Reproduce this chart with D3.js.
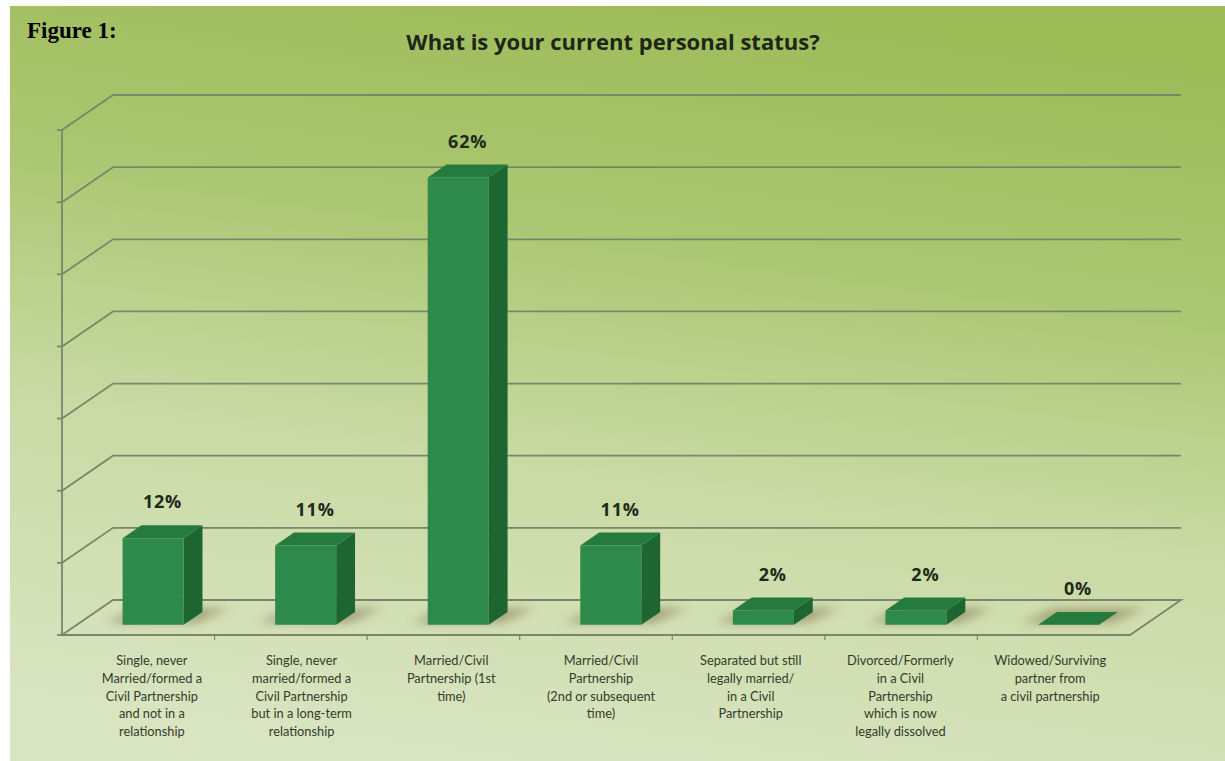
<!DOCTYPE html>
<html>
<head>
<meta charset="utf-8">
<title>What is your current personal status?</title>
<script src="https://d3js.org/d3.v7.min.js"></script>
<style>
  html, body { margin: 0; padding: 0; background: #fff; }
  svg { display: block; }
</style>
</head>
<body>
<script>
// chart data
const categories = [
  "Single, never Married/formed a Civil Partnership and not in a relationship",
  "Single, never married/formed a Civil Partnership but in a long-term relationship",
  "Married/Civil Partnership (1st time)",
  "Married/Civil Partnership (2nd or subsequent time)",
  "Separated but still legally married/ in a Civil Partnership",
  "Divorced/Formerly in a Civil Partnership which is now legally dissolved",
  "Widowed/Surviving partner from a civil partnership"
];
// line breaks as in the original axis labels
const labelLines = [
  ["Single, never", "Married/formed a", "Civil Partnership", "and not in a", "relationship"],
  ["Single, never", "married/formed a", "Civil Partnership", "but in a long-term", "relationship"],
  ["Married/Civil", "Partnership (1st", "time)"],
  ["Married/Civil", "Partnership", "(2nd or subsequent", "time)"],
  ["Separated but still", "legally married/", "in a Civil", "Partnership"],
  ["Divorced/Formerly", "in a Civil", "Partnership", "which is now", "legally dissolved"],
  ["Widowed/Surviving", "partner from", "a civil partnership"]
];
const values = [12, 11, 62, 11, 2, 2, 0];
const yTicks = [0, 10, 20, 30, 40, 50, 60, 70];
const title = "What is your current personal status?";
const figureLabel = "Figure 1:";

const width = 1225, height = 761;

const svg = d3.select("body").append("svg")
  .attr("width", width)
  .attr("height", height);

const defs = svg.append("defs");
const bg = defs.append("linearGradient")
  .attr("id", "bg")
  .attr("x1", 0.62).attr("y1", 0)
  .attr("x2", 0.4).attr("y2", 1);
bg.append("stop").attr("offset", 0).attr("stop-color", "#9dbc58");
bg.append("stop").attr("offset", 0.3).attr("stop-color", "#aac670");
bg.append("stop").attr("offset", 0.62).attr("stop-color", "#c9daa4");
bg.append("stop").attr("offset", 1).attr("stop-color", "#d9e4c1");

defs.append("filter").attr("id", "blur")
  .attr("x", -0.5).attr("y", -1).attr("width", 2).attr("height", 3)
  .append("feGaussianBlur").attr("stdDeviation", 5);

// white margin top/left like the scanned figure
svg.append("rect")
  .attr("x", 10).attr("y", 6)
  .attr("width", width - 10).attr("height", height - 6)
  .attr("fill", "url(#bg)");

// 3d frame: front plane scales + oblique depth offset
const depthX = 51, depthY = 35;
const x = d3.scaleBand()
  .domain(categories)
  .range([62, 1130])
  .paddingInner(0.6)
  .paddingOuter(0.3);
const y = d3.scaleLinear().domain([0, 70]).range([635, 130]);
const z0 = 0.29, z1 = 0.66; // bar front / back depth

const P = (px, py, z) => [px + z * depthX, py - z * depthY];
const poly = pts => "M" + pts.map(p => p.join(",")).join("L") + "Z";

const gridColor = "#77876a";
const grid = svg.append("g").attr("fill", "none").attr("stroke", gridColor).attr("stroke-width", 1.8);

// floor
const xa = x.range()[0], xb = x.range()[1];
grid.append("path")
  .attr("d", poly([P(xa, y(0), 0), P(xa, y(0), 1), P(xb, y(0), 1), P(xb, y(0), 0)]))
  .attr("fill", "#d6e2bb").attr("fill-opacity", 0.3);

// back wall gridlines + left wall diagonals
yTicks.filter(t => t > 0).forEach(t => {
  grid.append("path")
    .attr("d", d3.line()([P(xa, y(t), 0), P(xa, y(t), 1), P(xb, y(t), 1)]));
});

// front vertical axis with small ticks
grid.append("line")
  .attr("x1", xa).attr("x2", xa)
  .attr("y1", y(0)).attr("y2", y(70));
yTicks.forEach(t => {
  grid.append("line")
    .attr("x1", xa - 5).attr("x2", xa)
    .attr("y1", y(t)).attr("y2", y(t));
});

// category ticks below floor
const step = x.step();
d3.range(1, categories.length).forEach(i => {
  grid.append("line")
    .attr("x1", xa + i * step).attr("x2", xa + i * step)
    .attr("y1", y(0)).attr("y2", y(0) + 5)
    .attr("stroke-width", 1.2);
});

// shadows on the floor
const shadows = svg.append("g").attr("filter", "url(#blur)");
categories.forEach((c, i) => {
  const bx = x(c), bw = x.bandwidth();
  shadows.append("path")
    .attr("d", poly([
      P(bx - 20, y(0), z0 + 0.05), P(bx - 8, y(0), z1 + 0.1),
      P(bx + bw + 22, y(0), z1 + 0.1), P(bx + bw + 10, y(0), z0 + 0.05)
    ]))
    .attr("fill", "#6b5a35")
    .attr("opacity", 0.45);
});

// bars
const bars = svg.append("g");
categories.forEach((c, i) => {
  const bx = x(c), bw = x.bandwidth(), v = values[i];
  const yt = y(v), yb = y(0);
  const g = bars.append("g");
  // side
  g.append("path")
    .attr("d", poly([P(bx + bw, yb, z0), P(bx + bw, yb, z1), P(bx + bw, yt, z1), P(bx + bw, yt, z0)]))
    .attr("fill", "#1d6631");
  // top
  g.append("path")
    .attr("d", poly([P(bx, yt, z0), P(bx, yt, z1), P(bx + bw, yt, z1), P(bx + bw, yt, z0)]))
    .attr("fill", "#257a3e");
  // front
  if (v > 0) {
    g.append("path")
      .attr("d", poly([P(bx, yb, z0), P(bx, yt, z0), P(bx + bw, yt, z0), P(bx + bw, yb, z0)]))
      .attr("fill", "#2e8a4a");
  }
});

// value labels
svg.append("g")
  .selectAll("text")
  .data(categories)
  .join("text")
  .attr("x", (c) => P(x(c) + x.bandwidth() / 2, 0, (z0 + z1) / 2)[0])
  .attr("y", (c, i) => y(values[i]) - 40)
  .attr("text-anchor", "middle")
  .attr("font-family", "'Open Sans', sans-serif")
  .attr("font-weight", "bold")
  .attr("font-size", 18)
  .attr("letter-spacing", 0.8)
  .attr("fill", "#1f2a18")
  .text((c, i) => values[i] + "%");

// category labels
const labelX = d3.scaleBand().domain(categories).range([77, 1125]);
const lab = svg.append("g")
  .attr("font-family", "Lato, sans-serif")
  .attr("font-size", 12.8)
  .attr("fill", "#323d29")
  .attr("text-anchor", "middle");
categories.forEach((c, i) => {
  const t = lab.append("text")
    .attr("x", labelX(c) + labelX.bandwidth() / 2)
    .attr("y", 665);
  labelLines[i].forEach((line, k) => {
    t.append("tspan")
      .attr("x", labelX(c) + labelX.bandwidth() / 2)
      .attr("dy", k === 0 ? 0 : 17.8)
      .text(line);
  });
});

// titles
svg.append("text")
  .attr("x", 613).attr("y", 50)
  .attr("text-anchor", "middle")
  .attr("font-family", "'Open Sans', sans-serif")
  .attr("font-weight", "bold")
  .attr("font-size", 22)
  .attr("fill", "#1d2619")
  .text(title);

svg.append("text")
  .attr("x", 27).attr("y", 38)
  .attr("font-family", "'Liberation Serif', 'Times New Roman', serif")
  .attr("font-weight", "bold")
  .attr("font-size", 23)
  .attr("fill", "#000")
  .text(figureLabel);
</script>
</body>
</html>
